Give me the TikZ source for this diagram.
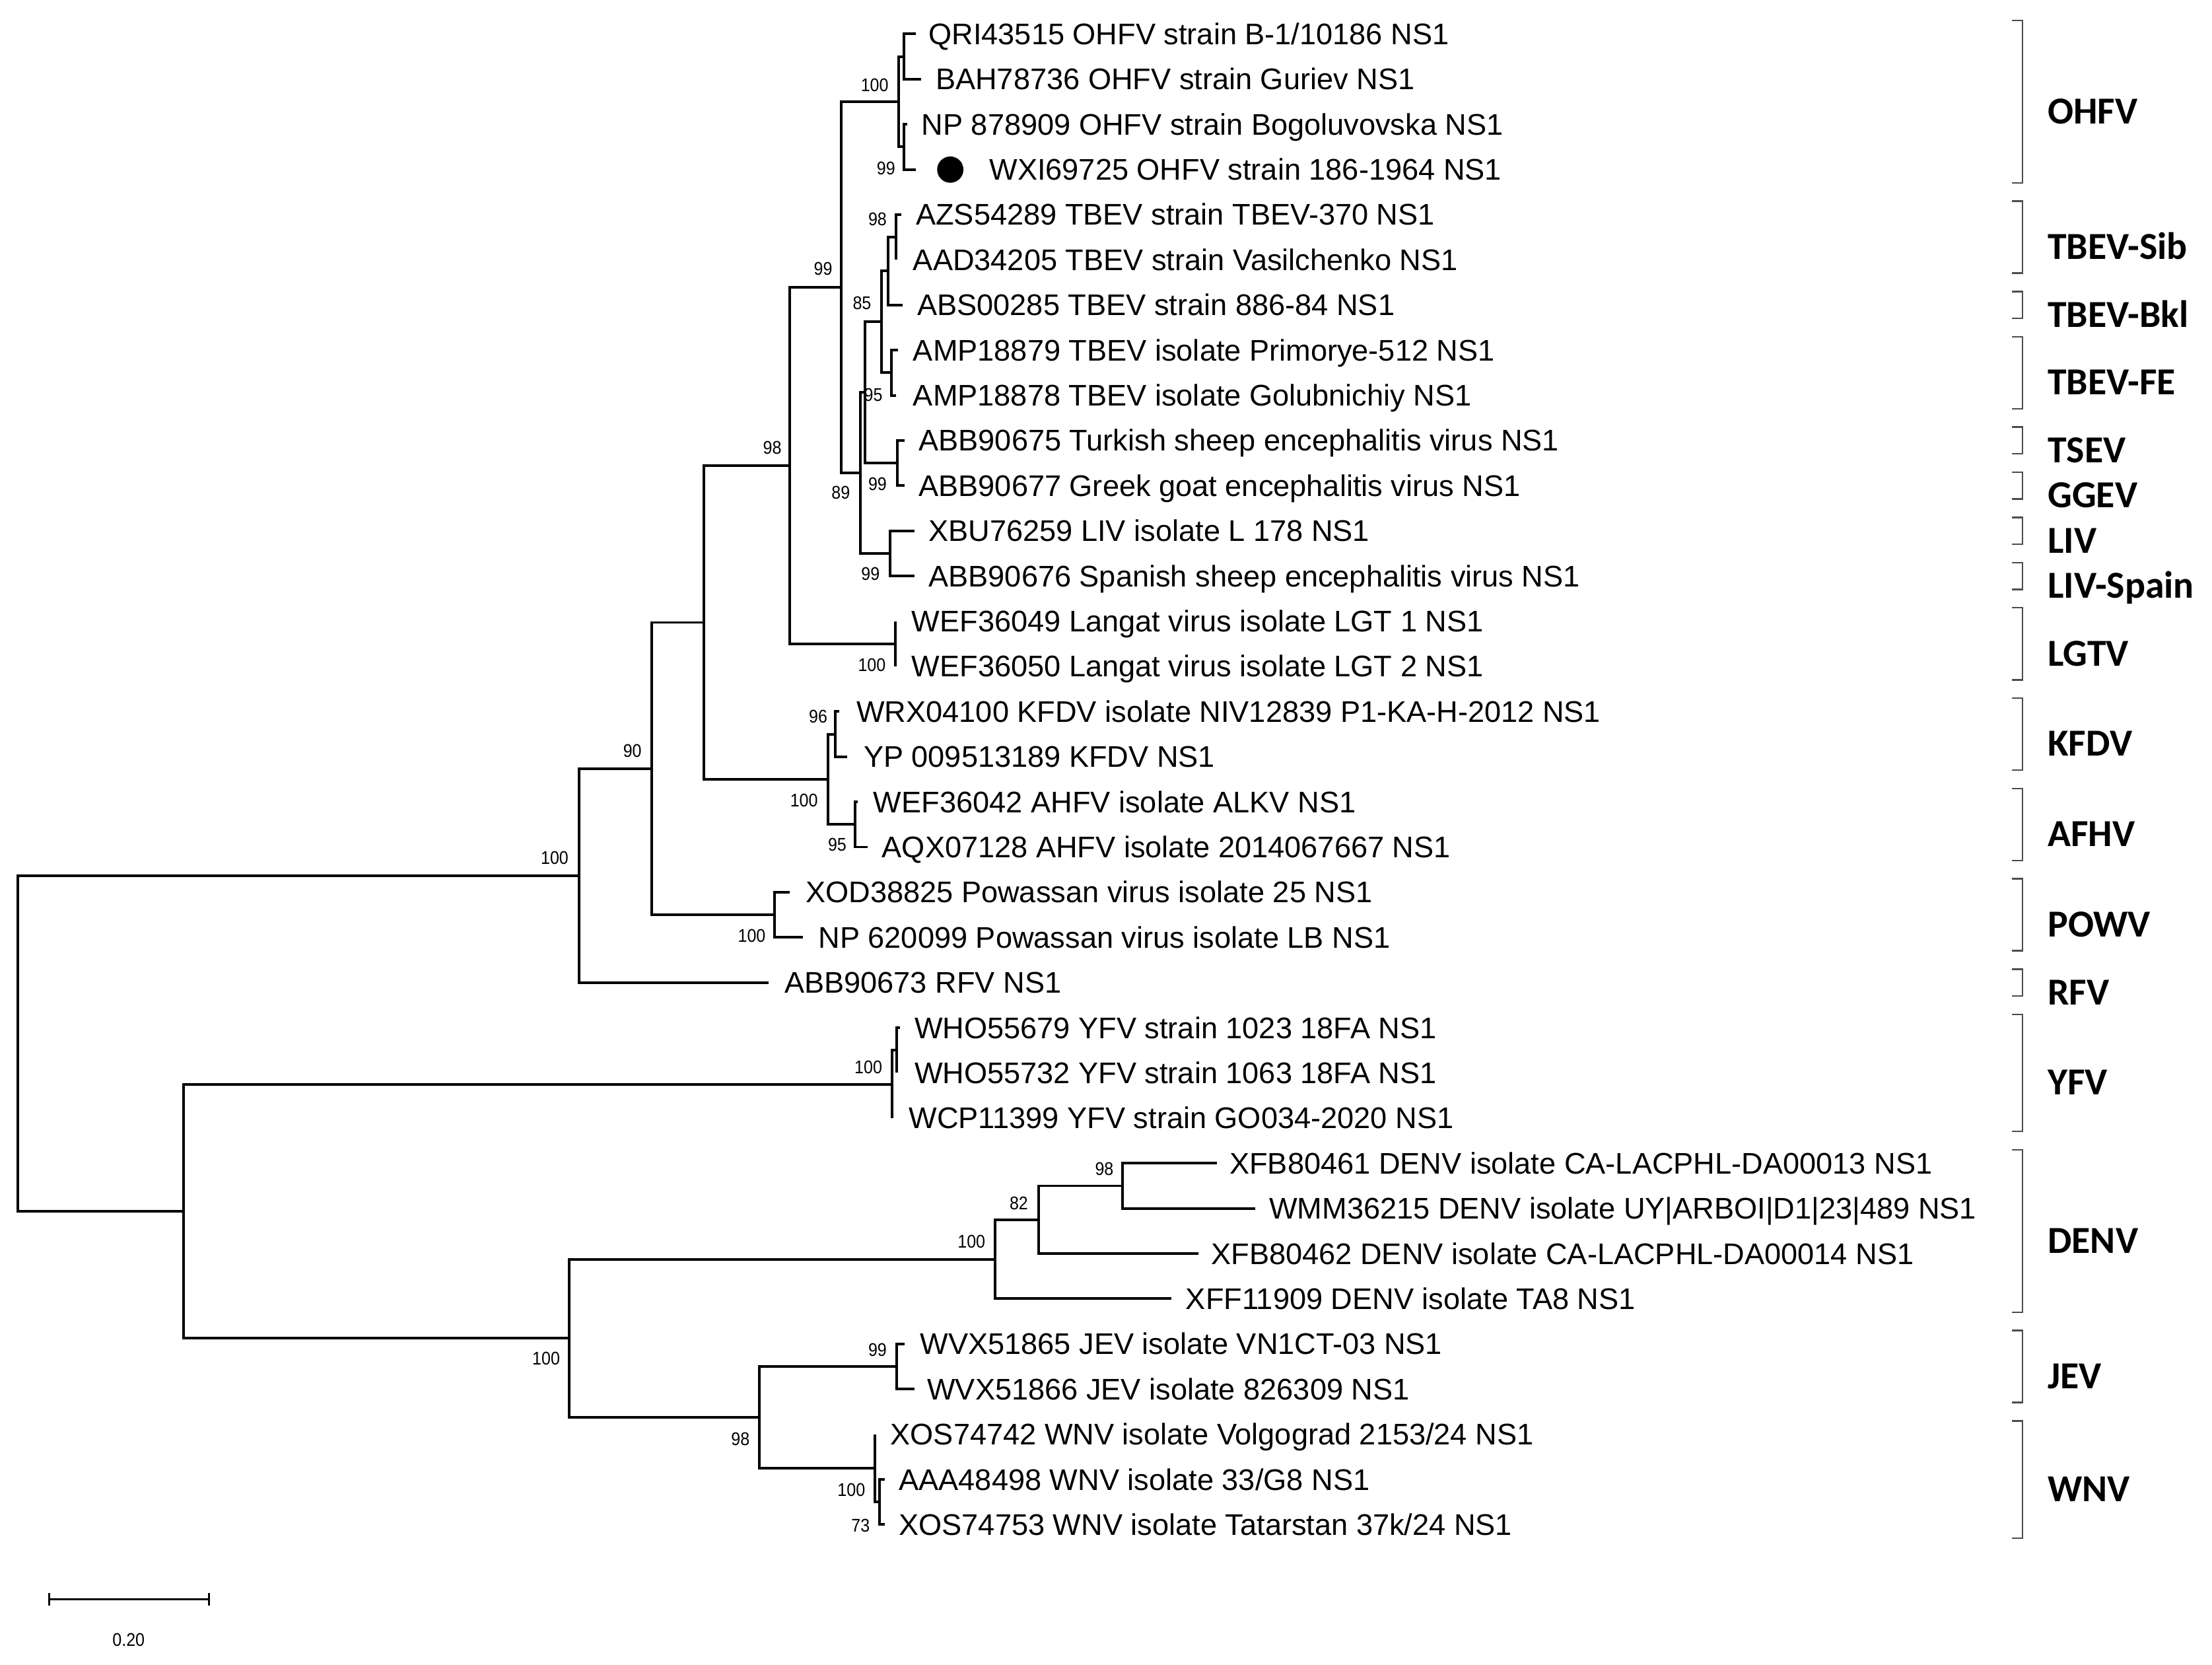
\documentclass[tikz,border=0pt]{standalone}
\usepackage{fontspec}
\setmainfont{Liberation Sans}
\newfontfamily\cladefont{Carlito}
\newcommand\brn[2]{\draw[br] (#1) |- (#2);}
\begin{document}
\begin{tikzpicture}[x=1pt,y=-1pt,
  br/.style={line width=1.85pt},
  leaf/.style={anchor=west, inner sep=0pt, text height=15pt, text depth=0pt, font=\fontsize{21.1}{21.1}\selectfont},
  bs/.style={inner sep=0pt, text height=9.3pt, text depth=0pt, font=\fontsize{13}{13}\selectfont},
  clade/.style={anchor=west, inner sep=0pt, text height=17.1pt, text depth=0pt, font=\cladefont\bfseries\fontsize{27}{27}\selectfont},
  brk/.style={line width=1.1pt, black!70}]
\useasboundingbox (0,0) rectangle (1565.4,1177.6);
% ---- leaf tips
\coordinate (t1) at (648,24);
\coordinate (t2) at (652,55.96);
\coordinate (t3) at (642,87.92);
\coordinate (t4) at (648,119.88);
\coordinate (t5) at (638,151.84);
\coordinate (t6) at (634,183.8);
\coordinate (t7) at (639,215.76);
\coordinate (t8) at (635.5,247.72);
\coordinate (t9) at (634,279.68);
\coordinate (t10) at (640,311.64);
\coordinate (t11) at (640,343.6);
\coordinate (t12) at (647,375.56);
\coordinate (t13) at (647,407.52);
\coordinate (t14) at (633.5,439.48);
\coordinate (t15) at (633.5,471.44);
\coordinate (t16) at (594,503.4);
\coordinate (t17) at (599.5,535.36);
\coordinate (t18) at (607,567.32);
\coordinate (t19) at (614,599.28);
\coordinate (t20) at (559,631.24);
\coordinate (t21) at (568,663.2);
\coordinate (t22) at (544,695.16);
\coordinate (t23) at (637,727.12);
\coordinate (t24) at (634.6,759.08);
\coordinate (t25) at (631.5,791.04);
\coordinate (t26) at (861,823);
\coordinate (t27) at (888.4,854.96);
\coordinate (t28) at (848,886.92);
\coordinate (t29) at (829,918.88);
\coordinate (t30) at (640,950.84);
\coordinate (t31) at (647,982.8);
\coordinate (t32) at (619,1014.76);
\coordinate (t33) at (626,1046.72);
\coordinate (t34) at (626,1078.68);
% ---- internal nodes
\coordinate (nO1) at (639.5,40);
\coordinate (nO2) at (639.5,103.9);
\coordinate (nOH) at (636,72);
\coordinate (nAZ) at (634,167.8);
\coordinate (nSB) at (628.5,191.8);
\coordinate (nFE) at (631,263.7);
\coordinate (nTB) at (624,227.75);
\coordinate (nTG) at (635,327.6);
\coordinate (nX) at (612,277.7);
\coordinate (nLIV) at (630,391.5);
\coordinate (n89) at (609,334.6);
\coordinate (n99) at (595.5,203.3);
\coordinate (nLG) at (633.5,455.5);
\coordinate (n98) at (559,329.4);
\coordinate (nKF) at (591,519.4);
\coordinate (nAH) at (605,583.3);
\coordinate (nKA) at (586,551.3);
\coordinate (n498) at (498,440.4);
\coordinate (nPO) at (548,647.2);
\coordinate (n90) at (461,543.8);
\coordinate (nT100) at (410,619.5);
\coordinate (nYi) at (634.6,743.1);
\coordinate (nYF) at (631.5,767.1);
\coordinate (nD98) at (794.4,839);
\coordinate (nD82) at (735,862.9);
\coordinate (nDE) at (704,890.9);
\coordinate (nJE) at (634.6,966.8);
\coordinate (nWi) at (622.4,1062.7);
\coordinate (nWN) at (619,1038.7);
\coordinate (nJW) at (537.5,1002.8);
\coordinate (nB100) at (403,946.8);
\coordinate (nBot) at (130,857);
\coordinate (nRoot) at (12.4,738.3);
% ---- branches
\brn{nO1}{t1}\brn{nO1}{t2}
\brn{nO2}{t3}\brn{nO2}{t4}
\brn{nOH}{nO1}\brn{nOH}{nO2}
\brn{nAZ}{t5}\brn{nAZ}{t6}
\brn{nSB}{nAZ}\brn{nSB}{t7}
\brn{nFE}{t8}\brn{nFE}{t9}
\brn{nTB}{nSB}\brn{nTB}{nFE}
\brn{nTG}{t10}\brn{nTG}{t11}
\brn{nX}{nTB}\brn{nX}{nTG}
\brn{nLIV}{t12}\brn{nLIV}{t13}
\brn{n89}{nX}\brn{n89}{nLIV}
\brn{n99}{nOH}\brn{n99}{n89}
\brn{nLG}{t14}\brn{nLG}{t15}
\brn{n98}{n99}\brn{n98}{nLG}
\brn{nKF}{t16}\brn{nKF}{t17}
\brn{nAH}{t18}\brn{nAH}{t19}
\brn{nKA}{nKF}\brn{nKA}{nAH}
\brn{n498}{n98}\brn{n498}{nKA}
\brn{nPO}{t20}\brn{nPO}{t21}
\brn{n90}{n498}\brn{n90}{nPO}
\brn{nT100}{n90}\brn{nT100}{t22}
\brn{nYi}{t23}\brn{nYi}{t24}
\brn{nYF}{nYi}\brn{nYF}{t25}
\brn{nD98}{t26}\brn{nD98}{t27}
\brn{nD82}{nD98}\brn{nD82}{t28}
\brn{nDE}{nD82}\brn{nDE}{t29}
\brn{nJE}{t30}\brn{nJE}{t31}
\brn{nWi}{t33}\brn{nWi}{t34}
\brn{nWN}{t32}\brn{nWN}{nWi}
\brn{nJW}{nJE}\brn{nJW}{nWN}
\brn{nB100}{nDE}\brn{nB100}{nJW}
\brn{nBot}{nYF}\brn{nBot}{nB100}
\brn{nRoot}{nT100}\brn{nRoot}{nBot}
% ---- leaf labels
\node[leaf] (l1) at (657,24) {QRI43515 OHFV strain B-1/10186 NS1};
\node[leaf] (l2) at (662,55.96) {BAH78736 OHFV strain Guriev NS1};
\node[leaf] (l3) at (652,87.92) {NP 878909 OHFV strain Bogoluvovska NS1};
\node[leaf] (l4) at (700,119.88) {WXI69725 OHFV strain 186-1964 NS1};
\fill (672.5,120) circle (9.3);
\node[leaf] (l5) at (648,151.84) {AZS54289 TBEV strain TBEV-370 NS1};
\node[leaf] (l6) at (646,183.8) {AAD34205 TBEV strain Vasilchenko NS1};
\node[leaf] (l7) at (649,215.76) {ABS00285 TBEV strain 886-84 NS1};
\node[leaf] (l8) at (646,247.72) {AMP18879 TBEV isolate Primorye-512 NS1};
\node[leaf] (l9) at (646,279.68) {AMP18878 TBEV isolate Golubnichiy NS1};
\node[leaf] (l10) at (650,311.64) {ABB90675 Turkish sheep encephalitis virus NS1};
\node[leaf] (l11) at (650,343.6) {ABB90677 Greek goat encephalitis virus NS1};
\node[leaf] (l12) at (657,375.56) {XBU76259 LIV isolate L 178 NS1};
\node[leaf] (l13) at (657,407.52) {ABB90676 Spanish sheep encephalitis virus NS1};
\node[leaf] (l14) at (645,439.48) {WEF36049 Langat virus isolate LGT 1 NS1};
\node[leaf] (l15) at (645,471.44) {WEF36050 Langat virus isolate LGT 2 NS1};
\node[leaf] (l16) at (606,503.4) {WRX04100 KFDV isolate NIV12839 P1-KA-H-2012 NS1};
\node[leaf] (l17) at (611,535.36) {YP 009513189 KFDV NS1};
\node[leaf] (l18) at (618,567.32) {WEF36042 AHFV isolate ALKV NS1};
\node[leaf] (l19) at (624,599.28) {AQX07128 AHFV isolate 2014067667 NS1};
\node[leaf] (l20) at (570,631.24) {XOD38825 Powassan virus isolate 25 NS1};
\node[leaf] (l21) at (579,663.2) {NP 620099 Powassan virus isolate LB NS1};
\node[leaf] (l22) at (555,695.16) {ABB90673 RFV NS1};
\node[leaf] (l23) at (647,727.12) {WHO55679 YFV strain 1023 18FA NS1};
\node[leaf] (l24) at (647,759.08) {WHO55732 YFV strain 1063 18FA NS1};
\node[leaf] (l25) at (643,791.04) {WCP11399 YFV strain GO034-2020 NS1};
\node[leaf] (l26) at (870,823) {XFB80461 DENV isolate CA-LACPHL-DA00013 NS1};
\node[leaf] (l27) at (898,854.96) {WMM36215 DENV isolate UY|ARBOI|D1|23|489 NS1};
\node[leaf] (l28) at (857,886.92) {XFB80462 DENV isolate CA-LACPHL-DA00014 NS1};
\node[leaf] (l29) at (839,918.88) {XFF11909 DENV isolate TA8 NS1};
\node[leaf] (l30) at (651,950.84) {WVX51865 JEV isolate VN1CT-03 NS1};
\node[leaf] (l31) at (656,982.8) {WVX51866 JEV isolate 826309 NS1};
\node[leaf] (l32) at (630,1014.76) {XOS74742 WNV isolate Volgograd 2153/24 NS1};
\node[leaf] (l33) at (636,1046.72) {AAA48498 WNV isolate 33/G8 NS1};
\node[leaf] (l34) at (636,1078.68) {XOS74753 WNV isolate Tatarstan 37k/24 NS1};
% ---- bootstrap values
\newcommand\bsv[1]{\scalebox{0.9}[1]{#1}}
\node[bs] (b1) at (619,60) {\bsv{100}};
\node[bs] (b2) at (627,119) {\bsv{99}};
\node[bs] (b3) at (621,155) {\bsv{98}};
\node[bs] (b4) at (582.5,190) {\bsv{99}};
\node[bs] (b5) at (610,214.5) {\bsv{85}};
\node[bs] (b6) at (618,279) {\bsv{95}};
\node[bs] (b7) at (621,342.5) {\bsv{99}};
\node[bs] (b8) at (595,348.6) {\bsv{89}};
\node[bs] (b9) at (616,406) {\bsv{99}};
\node[bs] (b10) at (546.5,316.5) {\bsv{98}};
\node[bs] (b11) at (617,470.5) {\bsv{100}};
\node[bs] (b12) at (579,507) {\bsv{96}};
\node[bs] (b13) at (569,566) {\bsv{100}};
\node[bs] (b14) at (592.5,597.5) {\bsv{95}};
\node[bs] (b15) at (447.5,531) {\bsv{90}};
\node[bs] (b16) at (392.5,607) {\bsv{100}};
\node[bs] (b17) at (532,662) {\bsv{100}};
\node[bs] (b18) at (614.5,755) {\bsv{100}};
\node[bs] (b19) at (781.5,827) {\bsv{98}};
\node[bs] (b20) at (721,851) {\bsv{82}};
\node[bs] (b21) at (687.5,878.5) {\bsv{100}};
\node[bs] (b22) at (386.5,961) {\bsv{100}};
\node[bs] (b23) at (621,955) {\bsv{99}};
\node[bs] (b24) at (524,1018) {\bsv{98}};
\node[bs] (b25) at (602.5,1054) {\bsv{100}};
\node[bs] (b26) at (609,1079) {\bsv{73}};
% ---- clade brackets and names
\foreach \nm/\tp/\bt in {OHFV/14.5/129.4, TBEV-Sib/142.3/193.3, TBEV-Bkl/206.3/225.3,
  TBEV-FE/238.2/289.2, TSEV/302.1/321.1, GGEV/334.1/353.1, LIV/366.1/385.1,
  LIV-Spain/398/417, LGTV/430/481, KFDV/493.9/544.9, AFHV/557.8/608.8,
  POWV/621.7/672.7, RFV/685.7/704.7, YFV/717.6/800.5, DENV/813.5/928.4,
  JEV/941.3/992.3, WNV/1005.3/1088.2}{
  \draw[brk] (1424,\tp) -- (1431.4,\tp) -- (1431.4,\bt) -- (1424,\bt);
  \node[clade] (c\nm) at (1449,{(\tp+\bt)/2+7}) {\nm};
}
% ---- scale bar
\coordinate (sbL) at (35,1131.5);
\coordinate (sbR) at (148,1131.5);
\draw[line width=1.4pt] (sbL) -- (sbR);
\draw[line width=1.4pt] ([yshift=4.3pt]sbL) -- ([yshift=-4.3pt]sbL);
\draw[line width=1.4pt] ([yshift=4.3pt]sbR) -- ([yshift=-4.3pt]sbR);
\node[bs] (sblab) at (91,1160) {\bsv{0.20}};
\end{tikzpicture}
\end{document}
